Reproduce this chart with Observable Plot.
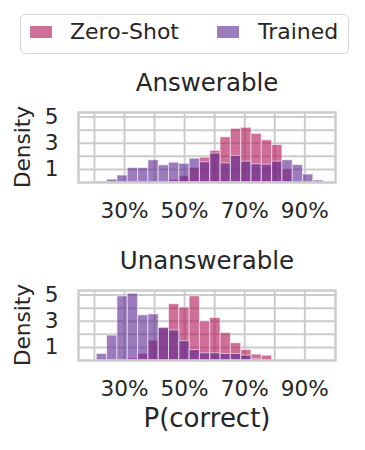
<!DOCTYPE html>
<html><head><meta charset="utf-8">
<script src="https://cdn.jsdelivr.net/npm/d3@7"></script>
<script src="https://cdn.jsdelivr.net/npm/@observablehq/plot@0.6"></script>
<style>
body{margin:0;background:#fff;font-family:"DejaVu Sans",sans-serif;color:#262626}
#wrap{position:relative;width:365px;height:450px;overflow:hidden;background:#fff}
.abs{position:absolute}
</style></head><body><div id="wrap"></div>
<script>
const seriesNames = ["Zero-Shot", "Trained"];
const seriesColors = ["#b11153", "#5a258f"];
const panelTitles = ["Answerable", "Unanswerable"];
const xLabel = "P(correct)";
const yLabel = "Density";
const binEdges = [0.208,0.2423,0.2766,0.3109,0.3452,0.3795,0.4138,0.4481,0.4824,0.5167,0.5510,0.5853,0.6196,0.6539,0.6882,0.7225,0.7568,0.7911,0.8254,0.8597,0.8940,0.9283,0.9626];
const answerableZeroShot = [0,0,0,0,0,0,0,0.2,0.48,1.12,1.9,2.42,3.45,4.1,4.18,3.71,3.22,2.86,1.0,0,0,0];
const answerableTrained  = [0.05,0.22,0.53,1.1,1.1,1.7,1.31,1.51,1.43,1.82,1.55,2.21,1.46,2.03,1.59,1.39,1.36,1.59,1.7,1.33,0.61,0.15];
const unanswerableZeroShot = [0,0,0.05,0.15,0.5,1.52,2.45,4.3,4.04,4.9,2.98,3.25,2.09,1.32,0.8,0.45,0.37,0,0,0,0,0];
const unanswerableTrained  = [0.5,1.9,4.9,5.1,3.45,3.52,2.5,2.3,1.48,0.8,0.55,0.55,0.5,0.5,0.37,0.1,0,0,0,0,0,0];
const xTicks = [0.3, 0.5, 0.7, 0.9];
const xGridTicks = [0.2, 0.3, 0.4, 0.5, 0.6, 0.7, 0.8, 0.9];
const yTicks = [1, 3, 5];
const yGridTicks = [1, 2, 3, 4, 5];
const xDomain = [0.147, 1.002];
const yDomain = [0, 5.35];

const wrap = document.getElementById("wrap");
const GRID = "#cccccc";
const FILL_OP = 0.6;

function rows(zs, tr) {
  const out = [];
  [zs, tr].forEach((vals, s) => {
    vals.forEach((v, i) => {
      if (v > 0) out.push({series: seriesNames[s], x1: binEdges[i], x2: binEdges[i + 1], y: v});
    });
  });
  return out;
}

function panel(title, zs, tr, o) {
  const marks = [
    Plot.gridX(xGridTicks, {stroke: GRID, strokeOpacity: 1, strokeWidth: 2}),
    Plot.gridY(yGridTicks, {stroke: GRID, strokeOpacity: 1, strokeWidth: 2}),
    Plot.rectY(rows(zs, tr), {x1: "x1", x2: "x2", y1: 0, y2: "y", fill: "series", fillOpacity: FILL_OP,
      stroke: "white", strokeOpacity: 0.55, strokeWidth: 1, inset: 0}),
    Plot.frame({stroke: GRID, strokeWidth: 2.5}),
    Plot.axisX({ticks: xTicks, tickFormat: d3.format(".0%"), tickSize: 0, tickPadding: 20.5, fontSize: 21.6, label: null}),
    Plot.axisY({ticks: yTicks, tickFormat: d3.format("d"), tickSize: 0, tickPadding: 20, fontSize: 21.6, label: null}),
    Plot.text([title], {frameAnchor: "top", lineAnchor: "middle", dy: -29, fontSize: 24.5, fill: "#262626"})
  ];
  if (o.xLabel) marks.push(Plot.text([o.xLabel], {frameAnchor: "bottom", lineAnchor: "middle", dy: 58, fontSize: 26, fill: "#262626"}));
  const svg = Plot.plot({
    width: 365, height: o.height,
    marginLeft: 78, marginRight: 30, marginTop: o.marginTop, marginBottom: o.marginBottom,
    style: {fontFamily: "DejaVu Sans", color: "#262626", background: "white", overflow: "visible"},
    x: {domain: xDomain},
    y: {domain: yDomain},
    color: {domain: seriesNames, range: seriesColors},
    marks
  });
  svg.classList.add("abs");
  svg.style.left = "0px";
  svg.style.top = o.top + "px";
  wrap.appendChild(svg);
  // rotated y label, centred on the frame's middle
  const lab = document.createElement("div");
  lab.className = "abs";
  lab.textContent = yLabel;
  const cy = o.top + o.marginTop + (o.height - o.marginTop - o.marginBottom) / 2;
  Object.assign(lab.style, {left: "23px", top: cy + "px", fontSize: "21.6px", lineHeight: "24px",
    whiteSpace: "nowrap", transform: "translate(-50%,-50%) rotate(-90deg)", color: "#262626"});
  wrap.appendChild(lab);
}

panel(panelTitles[0], answerableZeroShot, answerableTrained, {top: 60, height: 180, marginTop: 52, marginBottom: 58});
panel(panelTitles[1], unanswerableZeroShot, unanswerableTrained, {top: 240, height: 210, marginTop: 50, marginBottom: 90, xLabel});

// legend
const leg = document.createElement("div");
leg.className = "abs";
Object.assign(leg.style, {left: "20px", top: "14px", width: "327px", height: "38px",
  border: "1.5px solid #d6d6d6", borderRadius: "5px", background: "white"});
wrap.appendChild(leg);
const swX = [9, 196];
const txX = [49, 237];
seriesNames.forEach((name, i) => {
  const sw = document.createElement("div");
  sw.className = "abs";
  Object.assign(sw.style, {left: swX[i] + "px", top: "11px", width: "22px", height: "12px",
    background: seriesColors[i], opacity: FILL_OP, outline: "1px solid rgba(255,255,255,0.55)"});
  leg.appendChild(sw);
  const tx = document.createElement("div");
  tx.className = "abs";
  tx.textContent = name;
  Object.assign(tx.style, {left: txX[i] + "px", top: "4px", fontSize: "22px", lineHeight: "26px", color: "#262626", whiteSpace: "nowrap"});
  leg.appendChild(tx);
});
</script></body></html>
